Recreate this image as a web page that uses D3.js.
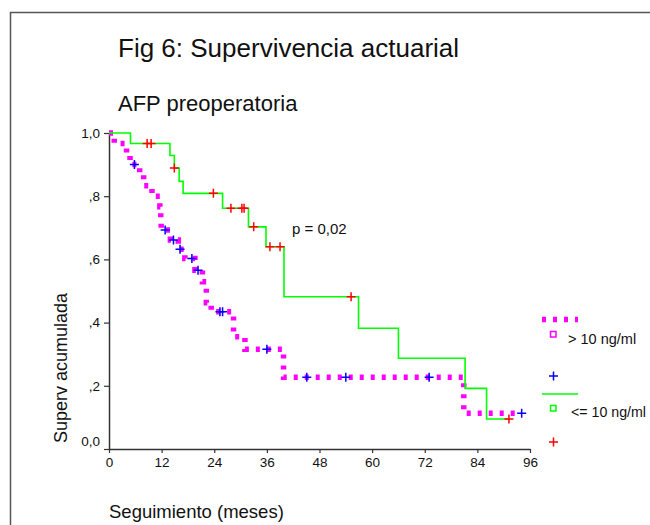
<!DOCTYPE html>
<html>
<head>
<meta charset="utf-8">
<script src="https://cdn.jsdelivr.net/npm/d3@7"></script>
<style>
  html, body { margin: 0; padding: 0; background: #fff; }
  svg { display: block; font-family: "Liberation Sans", Arial, sans-serif; }
</style>
</head>
<body>
<svg id="chart" width="650" height="525"></svg>
<script>
// ---- Data ----
const xTicks = [0, 12, 24, 36, 48, 60, 72, 84, 96];
const yTicks = [0, 0.2, 0.4, 0.6, 0.8, 1.0];
const yTickLabels = ["0,0", ",2", ",4", ",6", ",8", "1,0"];

// Group "> 10 ng/ml" (magenta dotted line, blue censor marks)
const highTimes = [0, 1.2, 4.0, 4.8, 7.0, 7.9, 9.8, 11.6, 11.8, 11.9, 14.0, 15.8, 17.3, 19.6, 21.3, 22.2, 23.3, 28.4, 31.0, 39.8, 80.9, 94.1];
const highSurv  = [1.0, 0.967, 0.933, 0.900, 0.867, 0.833, 0.800, 0.767, 0.731, 0.693, 0.661, 0.632, 0.603, 0.566, 0.529, 0.463, 0.434, 0.355, 0.316, 0.227, 0.113, 0.113];
const highCensTimes = [5.8, 12.8, 14.7, 16.2, 18.9, 20.3, 25.3, 25.9, 36.0, 45.1, 54.0, 73.0, 94.1];
const highCensSurv  = [0.900, 0.693, 0.661, 0.632, 0.603, 0.566, 0.434, 0.434, 0.316, 0.227, 0.227, 0.227, 0.113];

// Group "<= 10 ng/ml" (green line, red censor marks)
const lowTimes = [0, 4.9, 13.9, 14.9, 16.0, 16.9, 25.9, 31.8, 35.8, 39.9, 56.9, 66.0, 81.2, 86.1, 91.2];
const lowSurv  = [1.0, 0.967, 0.929, 0.889, 0.847, 0.809, 0.762, 0.703, 0.640, 0.482, 0.382, 0.287, 0.192, 0.095, 0.095];
const lowCensTimes = [8.7, 9.6, 14.9, 23.8, 27.8, 30.3, 30.8, 33.0, 36.7, 39.0, 55.2, 91.2];
const lowCensSurv  = [0.967, 0.967, 0.889, 0.809, 0.762, 0.762, 0.762, 0.703, 0.640, 0.640, 0.482, 0.095];

const legendLabels = ["> 10 ng/ml", "<= 10 ng/ml"];

// ---- Drawing ----
const svg = d3.select("#chart");
const FONT = '"Liberation Sans", Arial, sans-serif';
const MAGENTA = "#ff00ff", GREEN = "#00ff00", BLUE = "#0000ff", RED = "#ff0000";

// outer frame (cut off at right & bottom)
svg.append("rect").attr("x", 10.5).attr("y", 12.5).attr("width", 700).attr("height", 600)
  .attr("fill", "none").attr("stroke", "#555").attr("stroke-width", 1.5);

svg.append("text").attr("x", 118).attr("y", 56.5).attr("font-size", 26).attr("fill", "#111")
  .text("Fig 6: Supervivencia actuarial");
svg.append("text").attr("x", 118).attr("y", 111).attr("font-size", 22).attr("fill", "#111")
  .text("AFP preoperatoria");

const x = d3.scaleLinear().domain([0, 96]).range([109, 530]);
const y = d3.scaleLinear().domain([0, 1]).range([449, 133]);

// axes
const yAxis = d3.axisLeft(y).tickValues(yTicks).tickSize(5).tickSizeOuter(0).tickPadding(4)
  .tickFormat((d, i) => yTickLabels[i]);
const gy = svg.append("g").attr("transform", `translate(${x(0)},0)`).call(yAxis);
const xAxis = d3.axisBottom(x).tickValues(xTicks).tickSize(4).tickSizeOuter(0).tickPadding(4)
  .tickFormat(d => String(d));
const gx = svg.append("g").attr("transform", `translate(0,${y(0)})`).call(xAxis);
[gx, gy].forEach(g => {
  g.select(".domain").attr("stroke", "#333").attr("stroke-width", 1.5);
  g.selectAll(".tick line").attr("stroke", "#333").attr("stroke-width", 1.2);
  g.selectAll(".tick text").attr("font-family", FONT).attr("font-size", 13.5).attr("fill", "#111");
});
gy.selectAll(".tick text").filter((d) => d === 0).attr("dy", "-0.25em");

// axis titles
svg.append("text").attr("transform", "translate(67,368) rotate(-90)")
  .attr("text-anchor", "middle").attr("font-size", 18).attr("fill", "#111").text("Superv acumulada");
svg.append("text").attr("x", 109).attr("y", 517.5).attr("font-size", 18.5).attr("fill", "#111")
  .text("Seguimiento (meses)");

// step lines
const stepLine = d3.line().x(d => x(d[0])).y(d => y(d[1])).curve(d3.curveStepAfter);
const highPts = highTimes.map((t, i) => [t, highSurv[i]]);
const lowPts = lowTimes.map((t, i) => [t, lowSurv[i]]);

function plus(g, cx, cy, color, r) {
  g.append("path").attr("d", `M${cx - r},${cy}H${cx + r}M${cx},${cy - r}V${cy + r}`)
    .attr("stroke", color).attr("stroke-width", 1.5).attr("fill", "none");
}

const plot = svg.append("g");
plot.append("path").attr("d", stepLine(highPts)).attr("fill", "none")
  .attr("stroke", MAGENTA).attr("stroke-width", 5.5).attr("stroke-dasharray", "4,7");
highCensTimes.forEach((t, i) => plus(plot, x(t), y(highCensSurv[i]), BLUE, 4.5));
plot.append("path").attr("d", stepLine(lowPts)).attr("fill", "none")
  .attr("stroke", GREEN).attr("stroke-width", 1.6);
lowCensTimes.forEach((t, i) => plus(plot, x(t), y(lowCensSurv[i]), RED, 4.5));

svg.append("text").attr("x", 292).attr("y", 233.5).attr("font-size", 15).attr("fill", "#111").text("p = 0,02");

// legend
const lg = svg.append("g");
lg.append("line").attr("x1", 542).attr("x2", 578).attr("y1", 319.5).attr("y2", 319.5)
  .attr("stroke", MAGENTA).attr("stroke-width", 5.5).attr("stroke-dasharray", "4,7");
lg.append("rect").attr("x", 550.5).attr("y", 331.5).attr("width", 5.5).attr("height", 5.5)
  .attr("fill", "none").attr("stroke", MAGENTA).attr("stroke-width", 1.5);
lg.append("text").attr("x", 568).attr("y", 343.5).attr("font-size", 14.5).attr("fill", "#111").text(legendLabels[0]);
plus(lg, 553.5, 376, BLUE, 4.5);
lg.append("line").attr("x1", 542).attr("x2", 578).attr("y1", 394).attr("y2", 394)
  .attr("stroke", GREEN).attr("stroke-width", 1.6);
lg.append("rect").attr("x", 550.5).attr("y", 405.5).attr("width", 5.5).attr("height", 5.5)
  .attr("fill", "none").attr("stroke", GREEN).attr("stroke-width", 1.5);
lg.append("text").attr("x", 571).attr("y", 416.5).attr("font-size", 14.2).attr("fill", "#111").text(legendLabels[1]);
plus(lg, 553.5, 442, RED, 4.5);
</script>
</body>
</html>
